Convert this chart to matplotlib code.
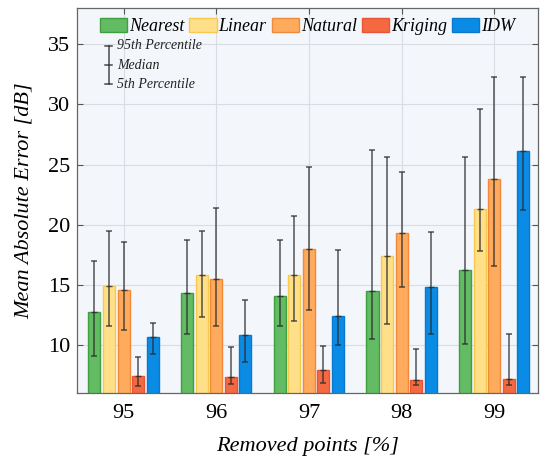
import numpy as np
import matplotlib
matplotlib.use("Agg")
import matplotlib.pyplot as plt
from matplotlib.patches import Patch
from matplotlib.font_manager import FontProperties

plt.rcParams['font.family'] = ['Liberation Serif', 'DejaVu Serif']
plt.rcParams['mathtext.fontset'] = 'stix'

removed = [95, 96, 97, 98, 99]
methods = ['Nearest', 'Linear', 'Natural', 'Kriging', 'IDW']

# median / 5th / 95th percentile of MAE per method, one entry per removed-points level
median = {
    'Nearest': [12.7, 14.3, 14.1, 14.5, 16.2],
    'Linear':  [14.9, 15.85, 15.85, 17.4, 21.3],
    'Natural': [14.6, 15.5, 18.0, 19.3, 23.8],
    'Kriging': [7.45, 7.3, 7.95, 7.1, 7.2],
    'IDW':     [10.7, 10.8, 12.4, 14.8, 26.1],
}
p5 = {
    'Nearest': [9.1, 10.9, 11.6, 10.5, 10.05],
    'Linear':  [11.6, 12.3, 12.0, 11.75, 17.8],
    'Natural': [11.2, 11.55, 12.9, 14.85, 16.6],
    'Kriging': [6.6, 6.75, 6.8, 6.7, 6.7],
    'IDW':     [9.25, 8.6, 10.0, 10.9, 21.2],
}
p95 = {
    'Nearest': [17.0, 18.7, 18.7, 26.2, 25.6],
    'Linear':  [19.5, 19.5, 20.7, 25.6, 29.6],
    'Natural': [18.6, 21.4, 24.8, 24.4, 32.3],
    'Kriging': [9.0, 9.8, 9.9, 9.7, 10.9],
    'IDW':     [11.8, 13.7, 17.9, 19.4, 32.3],
}

face = {'Nearest': '#63bb63', 'Linear': '#ffdf88', 'Natural': '#ffab5e',
        'Kriging': '#f4693f', 'IDW': '#0a8ce6'}
edge = {'Nearest': '#3f9f3f', 'Linear': '#f7c94e', 'Natural': '#f08a3a',
        'Kriging': '#e8553a', 'IDW': '#0a78cc'}

fig = plt.figure(figsize=(5.4, 4.57), dpi=100)
ax = fig.add_axes([0.143, 0.140, 0.853, 0.842])
ax.set_facecolor('#f3f6fb')

x = np.array(removed, dtype=float)
step = 0.157
width = 0.13
for i, m in enumerate(methods):
    xs = x + (i - 2) * step
    med = np.array(median[m])
    lo = med - np.array(p5[m])
    hi = np.array(p95[m]) - med
    ax.bar(xs, med, width=width, color=face[m], edgecolor=edge[m],
           linewidth=1.0, zorder=2)
    ax.errorbar(xs, med, yerr=[lo, hi], fmt='none', ecolor='#2b2b2b',
                elinewidth=1.1, capsize=2.5, capthick=1.1, alpha=0.8, zorder=3)
    ax.plot(xs, med, linestyle='none', marker='_', markersize=5,
            color='#2b2b2b', alpha=0.8, zorder=3)

ax.set_xlim(94.5, 99.47)
ax.set_ylim(6, 38)
ax.set_xticks(removed)
ax.set_yticks([10, 15, 20, 25, 30, 35])
ax.grid(True, color='#d9dde3', linewidth=0.8, zorder=0)
ax.set_axisbelow(True)
ax.tick_params(axis='both', direction='in', labelsize=16, color='#555555',
               top=True, right=True, length=4)
ax.tick_params(axis='x', pad=8)
ax.tick_params(axis='y', pad=5)
for s in ax.spines.values():
    s.set_color('#666666')
    s.set_linewidth(0.9)

ax.set_xlabel('Removed points [%]', fontsize=16, style='italic', labelpad=10)
ax.set_ylabel('Mean Absolute Error [dB]', fontsize=16, style='italic', labelpad=10)

leg_font = FontProperties(family='Liberation Serif', style='italic', size=13)
handles = [Patch(facecolor=face[m], edgecolor=edge[m]) for m in methods]
leg = ax.legend(handles, methods, loc='center', ncol=5, frameon=False,
                prop=leg_font,
                handlelength=1.5, handleheight=0.8, handletextpad=0.1,
                columnspacing=0.3, borderpad=0.0,
                bbox_to_anchor=(0.5, 0.953))

# percentile key for the error bars
kx = 0.068
ktop, kmid, kbot = 0.902, 0.852, 0.803
ax.plot([kx, kx], [kbot, ktop], transform=ax.transAxes, color='#2b2b2b',
        linewidth=1.1, alpha=0.85)
for yy in (ktop, kmid, kbot):
    ax.plot([kx - 0.008, kx + 0.008], [yy, yy], transform=ax.transAxes,
            color='#2b2b2b', linewidth=1.1, alpha=0.85)
for yy, txt in zip((ktop, kmid, kbot),
                   ('95th Percentile', 'Median', '5th Percentile')):
    ax.text(kx + 0.018, yy, txt, transform=ax.transAxes, fontsize=10,
            style='italic', va='center', ha='left', color='#222222')

fig.savefig('out.png', dpi=100)
